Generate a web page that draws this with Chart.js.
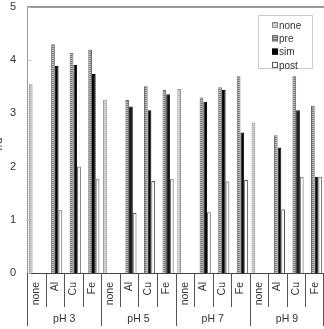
<!DOCTYPE html>
<html>
<head>
    <meta charset='utf-8'>
    <title>bars by pH</title>
    <script src="https://cdn.jsdelivr.net/npm/chart.js@4.4.1/dist/chart.umd.min.js"></script>
    <style>
        body { margin: 0; background: #fff; }
        #wrap { width: 324px; height: 329px; }
    </style>
</head>
<body>
    <div id="wrap"><canvas id="myChart"></canvas></div>
    <script>
        // data
        const categories = ['none', 'Al', 'Cu', 'Fe', 'none', 'Al', 'Cu', 'Fe', 'none', 'Al', 'Cu', 'Fe', 'none', 'Al', 'Cu', 'Fe'];
        const groups = ['pH 3', 'pH 5', 'pH 7', 'pH 9'];
        const noneVals = [3.55, null, null, null, 3.26, null, null, null, 3.46, null, null, null, 2.83, null, null, null];
        const preVals = [null, 4.30, 4.14, 4.20, null, 3.25, 3.51, 3.44, null, 3.30, 3.49, 3.70, null, 2.59, 3.70, 3.15];
        const simVals = [null, 3.89, 3.91, 3.74, null, 3.13, 3.06, 3.36, null, 3.22, 3.44, 2.64, null, 2.36, 3.06, 1.81];
        const postVals = [null, 1.18, 2.00, 1.76, null, 1.13, 1.73, 1.76, null, 1.14, 1.72, 1.75, null, 1.20, 1.81, 1.81];
        const yTicks = [0, 1, 2, 3, 4, 5];

        const font = "'Liberation Sans', Arial, sans-serif";

        // striped fills like the printed hatching
        function stripes(a, b) {
            const c = document.createElement('canvas');
            c.width = 2; c.height = 2;
            const g = c.getContext('2d');
            g.fillStyle = a; g.fillRect(0, 0, 2, 1);
            g.fillStyle = b; g.fillRect(0, 1, 2, 1);
            return g.createPattern(c, 'repeat');
        }
        const noneFill = stripes('#dcdcdc', '#b8b8b8');
        const preFill = stripes('#c0c0c0', '#707070');

        const extras = {
            id: 'extras',
            afterDraw(chart) {
                const ctx = chart.ctx;
                const x = chart.scales.x, y = chart.scales.y;
                const a = chart.chartArea;
                ctx.save();
                // top frame line
                ctx.strokeStyle = '#999';
                ctx.lineWidth = 2;
                ctx.beginPath();
                ctx.moveTo(a.left, a.top);
                ctx.lineTo(a.right, a.top);
                ctx.stroke();
                // small inside ticks on y
                ctx.strokeStyle = '#bbb';
                ctx.lineWidth = 1;
                yTicks.forEach(v => {
                    const py = Math.round(y.getPixelForValue(v)) + 0.5;
                    ctx.beginPath();
                    ctx.moveTo(a.left, py);
                    ctx.lineTo(a.left + 4, py);
                    ctx.stroke();
                });
                // category separators below the axis
                ctx.strokeStyle = '#555';
                for (let i = 0; i <= categories.length; i++) {
                    let px;
                    if (i === 0) px = x.left;
                    else if (i === categories.length) px = x.right - 1;
                    else px = (x.getPixelForValue(i - 1) + x.getPixelForValue(i)) / 2;
                    px = Math.round(px) + 0.5;
                    const long = i % 4 === 0;
                    ctx.beginPath();
                    ctx.moveTo(px, a.bottom);
                    ctx.lineTo(px, a.bottom + (long ? 53 : 34));
                    ctx.stroke();
                }
                // pH group labels
                ctx.fillStyle = '#333';
                ctx.font = '10.5px ' + font;
                ctx.textAlign = 'center';
                ctx.textBaseline = 'middle';
                groups.forEach((g, k) => {
                    const cx = (x.getPixelForValue(k * 4 + 1) + x.getPixelForValue(k * 4 + 2)) / 2;
                    ctx.fillText(g, cx, a.bottom + 46);
                });
                // clipped y title
                ctx.save();
                ctx.translate(-1, (a.top + a.bottom) / 2 + 4);
                ctx.rotate(-Math.PI / 2);
                ctx.font = '11px ' + font;
                ctx.fillText('r/d', 0, 0);
                ctx.restore();
                // legend box
                const lx = 258, ly = 15, lw = 54, lh = 53;
                ctx.fillStyle = '#fff';
                ctx.fillRect(lx, ly, lw, lh);
                ctx.strokeStyle = '#ccc';
                ctx.strokeRect(lx + 0.5, ly + 0.5, lw, lh);
                ctx.textAlign = 'left';
                ctx.font = '10px ' + font;
                chart.data.datasets.forEach((ds, k) => {
                    const ry = ly + 10 + k * 13.3;
                    ctx.fillStyle = ds.backgroundColor;
                    ctx.fillRect(lx + 14, ry - 3, 6, 6);
                    ctx.strokeStyle = ds.borderColor;
                    ctx.strokeRect(lx + 14.5, ry - 2.5, 5, 5);
                    ctx.fillStyle = '#333';
                    ctx.fillText(ds.label, lx + 21, ry + 1);
                });
                ctx.restore();
            }
        };

        const ctx = document.getElementById('myChart').getContext('2d');
        const myChart = new Chart(ctx, {
            type: 'bar',
            data: {
                labels: categories,
                datasets: [{
                        label: 'none',
                        data: noneVals,
                        backgroundColor: noneFill,
                        borderColor: '#8a8a8a',
                        borderWidth: 1
                    },
                    {
                        label: 'pre',
                        data: preVals,
                        backgroundColor: preFill,
                        borderColor: '#666',
                        borderWidth: 1
                    },
                    {
                        label: 'sim',
                        data: simVals,
                        backgroundColor: '#000',
                        borderColor: '#000',
                        borderWidth: 1
                    },
                    {
                        label: 'post',
                        data: postVals,
                        backgroundColor: '#fff',
                        borderColor: '#555',
                        borderWidth: 1
                    }
                ]
            },
            options: {
                responsive: true,
                maintainAspectRatio: false,
                animation: false,
                layout: { padding: { top: 7, right: 0, bottom: 0, left: 0 } },
                plugins: {
                    legend: { display: false },
                    tooltip: { enabled: false }
                },
                datasets: {
                    bar: { categoryPercentage: 0.8, barPercentage: 1.0 }
                },
                scales: {
                    x: {
                        grid: { display: false, drawTicks: false, tickLength: 0 },
                        border: { display: true, color: '#444', width: 1 },
                        ticks: {
                            autoSkip: false,
                            minRotation: 90,
                            maxRotation: 90,
                            padding: 9,
                            color: '#333',
                            font: { family: font, size: 10.5 }
                        },
                        afterFit(s) {
                            s.height = 56;
                            s.paddingLeft = 0;
                            s.paddingRight = 0;
                        }
                    },
                    y: {
                        min: 0,
                        max: 5,
                        grid: { display: false, drawTicks: false, tickLength: 0 },
                        border: { display: true, color: '#999', width: 1 },
                        ticks: {
                            stepSize: 1,
                            padding: 11,
                            color: '#333',
                            font: { family: font, size: 11 }
                        },
                        afterFit(s) {
                            s.width = 27;
                            s.paddingTop = 0;
                            s.paddingBottom = 0;
                        }
                    }
                }
            },
            plugins: [extras]
        });
    </script>
</body>
</html>
